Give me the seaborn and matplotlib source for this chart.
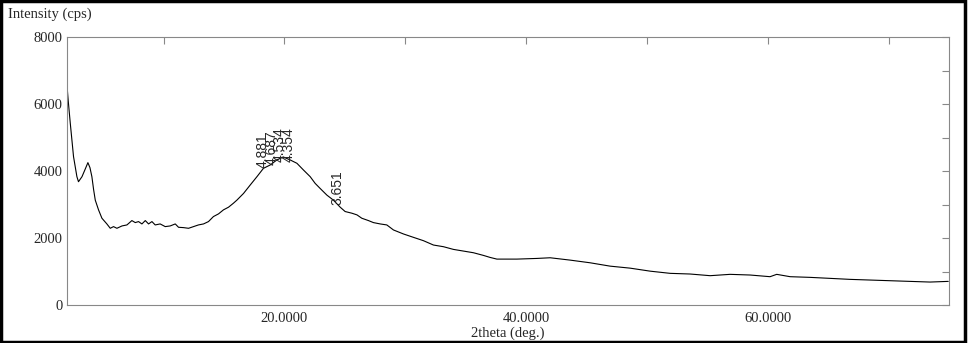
import matplotlib
matplotlib.use("Agg")
import matplotlib.pyplot as plt
import seaborn as sns
import pandas as pd
from matplotlib.patches import Rectangle

two_theta = [2.0, 2.1, 2.27, 2.54, 2.82, 2.95, 3.24, 3.5, 3.73, 3.9, 4.06, 4.2, 4.34, 4.61, 4.89, 5.30,
             5.58, 5.85, 6.13, 6.55, 6.96, 7.37, 7.65, 7.92, 8.20, 8.48, 8.75, 9.03, 9.30, 9.71, 10.13,
             10.54, 10.96, 11.23, 11.64, 12.06, 12.47, 12.88, 13.30, 13.71, 14.12, 14.54, 14.95, 15.37,
             15.78, 16.06, 16.61, 17.16, 17.72, 18.26, 18.82, 19.37, 19.9, 20.47, 21.03, 21.57, 22.13,
             22.54, 22.95, 23.51, 24.05, 24.61, 25.02, 25.58, 26.0, 26.40, 26.95, 27.36, 27.92, 28.47,
             29.02, 29.85, 30.67, 31.50, 32.33, 33.16, 33.98, 34.81, 35.64, 36.47, 37.02, 37.58, 39.23,
             40.89, 41.99, 43.64, 45.30, 46.95, 48.61, 50.27, 51.92, 53.57, 55.23, 56.88, 58.54, 60.19,
             60.74, 61.85, 63.50, 65.16, 66.81, 68.47, 70.12, 71.77, 73.43, 74.94]
intensity = [6550, 6100, 5430, 4430, 3830, 3680, 3830, 4050, 4250, 4100, 3830, 3450, 3130, 2840, 2590, 2420,
             2290, 2340, 2290, 2360, 2390, 2520, 2460, 2490, 2420, 2520, 2420, 2490, 2390, 2420, 2340,
             2360, 2420, 2320, 2310, 2290, 2340, 2390, 2420, 2490, 2640, 2720, 2840, 2920,
             3040, 3130, 3330, 3580, 3830, 4080, 4180, 4330, 4420, 4330, 4230, 4030, 3830,
             3630, 3480, 3280, 3130, 2920, 2790, 2740, 2690, 2590, 2520, 2460, 2420, 2390,
             2240, 2120, 2020, 1920, 1790, 1740, 1660, 1610, 1560, 1480, 1420, 1370, 1370,
             1390, 1410, 1340, 1260, 1160, 1100, 1010, 945, 925, 875, 915, 895, 845,
             915, 845, 825, 795, 765, 745, 725, 705, 685, 705]

peak_d = ["4.881", "4.687", "4.534", "4.354", "3.651"]
peak_pos = [18.16, 18.92, 19.56, 20.38, 24.36]
peak_int = [4090, 4180, 4260, 4280, 2985]

x_ticks = [10, 20, 30, 40, 50, 60, 70]
x_labels = ["", "20.0000", "", "40.0000", "", "60.0000", ""]
y_ticks = [0, 1000, 2000, 3000, 4000, 5000, 6000, 7000, 8000]
y_labels = ["0", "", "2000", "", "4000", "", "6000", "", "8000"]

sns.set_style("white")
plt.rcParams['font.family'] = ['Liberation Serif', 'DejaVu Serif']

df = pd.DataFrame({"2theta": two_theta, "Intensity": intensity})

fig = plt.figure(figsize=(9.68, 3.43), dpi=100)
ax = fig.add_axes([67 / 968, 1 - 305 / 343, (949 - 67) / 968, (305 - 37) / 343])
sns.lineplot(data=df, x="2theta", y="Intensity", ax=ax, color="black", linewidth=0.8)

ax.set_xlim(2, 75)
ax.set_ylim(0, 8000)
ax.set_xticks(x_ticks)
ax.set_xticklabels(x_labels, fontsize=10.5)
ax.set_yticks(y_ticks)
ax.set_yticklabels(y_labels, fontsize=10.5)
ax.tick_params(direction="in", length=5, width=0.8, color="#888888", top=True, right=True,
               labeltop=False, labelright=False, pad=3)
ax.tick_params(axis="x", pad=5)
for s in ax.spines.values():
    s.set_color("#888888")
    s.set_linewidth(0.8)
ax.set_xlabel("")
ax.set_ylabel("")

for lbl, xp, yp in zip(peak_d, peak_pos, peak_int):
    ax.text(xp, yp, lbl, rotation=90, ha="center", va="bottom", fontsize=10,
            family=["Liberation Sans", "DejaVu Sans"])

fig.text(8 / 968, 1 - 14 / 343, "Intensity (cps)", ha="left", va="center", fontsize=10.5)
fig.text(508 / 968, 1 - 333 / 343, "2theta (deg.)", ha="center", va="center", fontsize=10.5)

fig.add_artist(Rectangle((0.0015, 0.003), 0.9955, 0.994, transform=fig.transFigure,
                         fill=False, edgecolor="black", linewidth=2.5))

fig.savefig("out.png", dpi=100)
